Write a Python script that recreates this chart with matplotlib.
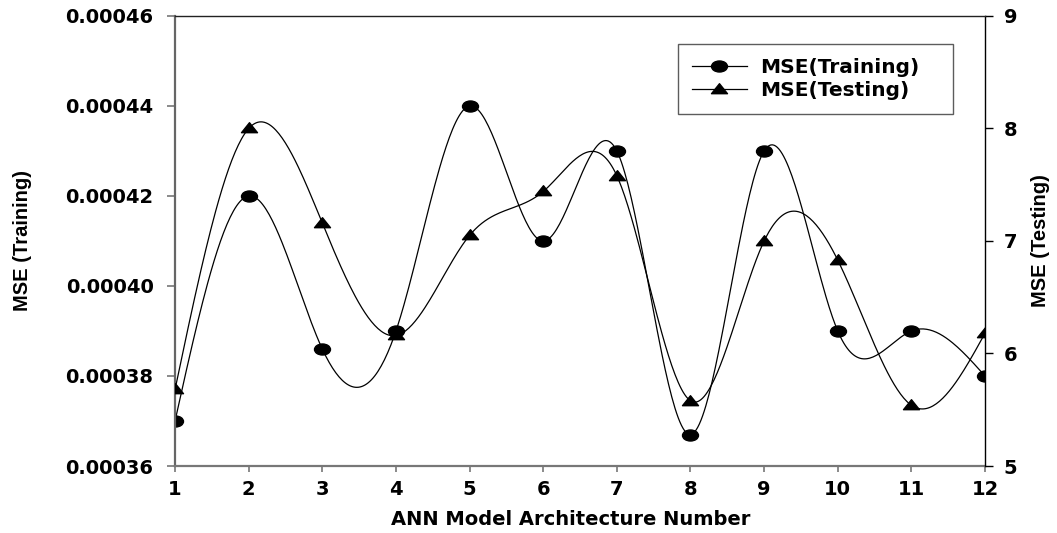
import numpy as np
import matplotlib
matplotlib.use("Agg")
import matplotlib.pyplot as plt
from matplotlib.lines import Line2D
from matplotlib.path import Path
from matplotlib.transforms import Affine2D

models = [1, 2, 3, 4, 5, 6, 7, 8, 9, 10, 11, 12]
mse_training = [0.000370, 0.000420, 0.000386, 0.000390, 0.000440, 0.000410,
                0.000430, 0.000367, 0.000430, 0.000390, 0.000390, 0.000380]
mse_testing = [5.68, 8.00, 7.16, 6.16, 7.05, 7.44,
               7.58, 5.58, 7.00, 6.83, 5.54, 6.18]
left_ticks = [0.00036, 0.00038, 0.00040, 0.00042, 0.00044, 0.00046]
right_ticks = [5, 6, 7, 8, 9]

TICK_FONT = {"family": "DejaVu Sans", "weight": "bold", "size": 14}
VLABEL_FONT = {"family": "Liberation Sans", "weight": "bold", "size": 14.5}

# the source picture is stretched sideways, so the markers are too
circle_marker = Path.unit_circle().transformed(Affine2D().scale(1.45, 1.0))
triangle_marker = Path([(-0.8, -0.42), (0.8, -0.42), (0.0, 0.58), (-0.8, -0.42)],
                       [Path.MOVETO, Path.LINETO, Path.LINETO, Path.CLOSEPOLY])


def natural_spline(x, y, num=500):
    x = np.asarray(x, float)
    y = np.asarray(y, float)
    n = len(x)
    h = np.diff(x)
    A = np.zeros((n, n))
    b = np.zeros(n)
    A[0, 0] = A[-1, -1] = 1
    for i in range(1, n - 1):
        A[i, i - 1] = h[i - 1]
        A[i, i] = 2 * (h[i - 1] + h[i])
        A[i, i + 1] = h[i]
        b[i] = 6 * ((y[i + 1] - y[i]) / h[i] - (y[i] - y[i - 1]) / h[i - 1])
    M = np.linalg.solve(A, b)
    xs = np.linspace(x[0], x[-1], num)
    idx = np.clip(np.searchsorted(x, xs) - 1, 0, n - 2)
    hh = x[idx + 1] - x[idx]
    t0 = x[idx + 1] - xs
    t1 = xs - x[idx]
    ys = (M[idx] * t0 ** 3 / (6 * hh) + M[idx + 1] * t1 ** 3 / (6 * hh)
          + (y[idx] / hh - M[idx] * hh / 6) * t0
          + (y[idx + 1] / hh - M[idx + 1] * hh / 6) * t1)
    return xs, ys


def plot_mse(out="out.png"):
    fig = plt.figure(figsize=(10.57, 5.33), dpi=100)
    ax = fig.add_axes([0.1656, 0.1257, 0.7663, 0.8443])
    ax2 = ax.twinx()

    xs, ys = natural_spline(models, mse_training)
    ax.plot(xs, ys, color="black", lw=0.9)
    ax.plot(models, mse_training, ls="none", marker=circle_marker, ms=11.5, color="black")

    xs, ys = natural_spline(models, mse_testing)
    ax2.plot(xs, ys, color="black", lw=0.9)
    ax2.plot(models, mse_testing, ls="none", marker=triangle_marker, ms=11.5, color="black")

    ax.set_xlim(1, 12)
    ax.set_ylim(0.00036, 0.00046)
    ax2.set_ylim(5, 9)
    ax.set_xticks(models)
    ax.set_xticklabels([str(m) for m in models], fontdict=TICK_FONT)
    ax.set_yticks(left_ticks)
    ax.set_yticklabels(["%.5f" % t for t in left_ticks], fontdict=TICK_FONT)
    ax2.set_yticks(right_ticks)
    ax2.set_yticklabels([str(t) for t in right_ticks], fontdict=TICK_FONT)

    for a in (ax, ax2):
        for s in a.spines.values():
            s.set_visible(False)
    ax.spines["left"].set_visible(True)
    ax.spines["left"].set_color("#666666")
    ax.spines["left"].set_linewidth(1.6)
    ax.spines["bottom"].set_visible(True)
    ax.spines["bottom"].set_color("#777777")
    ax.spines["bottom"].set_linewidth(1.6)
    ax2.spines["top"].set_visible(True)
    ax2.spines["top"].set_color("#222222")
    ax2.spines["top"].set_linewidth(1.0)
    ax2.spines["right"].set_visible(True)
    ax2.spines["right"].set_color("black")
    ax2.spines["right"].set_linewidth(1.0)

    ax.tick_params(axis="x", direction="out", length=4.3, width=1.2, color="#777777", pad=6)
    ax.tick_params(axis="y", direction="out", length=5.5, width=1.2, color="#777777", pad=10)
    ax2.tick_params(axis="y", direction="out", length=5.5, width=1.0, color="black", pad=8)

    ax.set_xlabel("ANN Model Architecture Number", fontdict=TICK_FONT)
    ax.xaxis.set_label_coords(0.488, -0.097)
    ax.set_ylabel("MSE (Training)", fontdict=VLABEL_FONT)
    ax.yaxis.set_label_coords(-0.176, 0.5)
    ax2.set_ylabel("MSE (Testing)", fontdict=VLABEL_FONT)
    ax2.yaxis.set_label_coords(1.057, 0.5)

    handles = [
        Line2D([], [], color="black", lw=0.9, marker=circle_marker, ms=11.5),
        Line2D([], [], color="black", lw=0.9, marker=triangle_marker, ms=11.5),
    ]
    leg = ax2.legend(handles, ["MSE(Training)", "MSE(Testing)"],
                     loc="upper left", bbox_to_anchor=(0.621, 0.5, 0.3395, 0.4378),
                     mode="expand", borderaxespad=0, fancybox=False,
                     handlelength=2.7, handletextpad=0.7, labelspacing=0.2,
                     borderpad=0.7, prop={"family": "DejaVu Sans", "weight": "bold", "size": 14.5})
    leg.get_frame().set_edgecolor("#333333")
    leg.get_frame().set_linewidth(1.0)

    fig.savefig(out, dpi=100)


if __name__ == "__main__":
    plot_mse()
